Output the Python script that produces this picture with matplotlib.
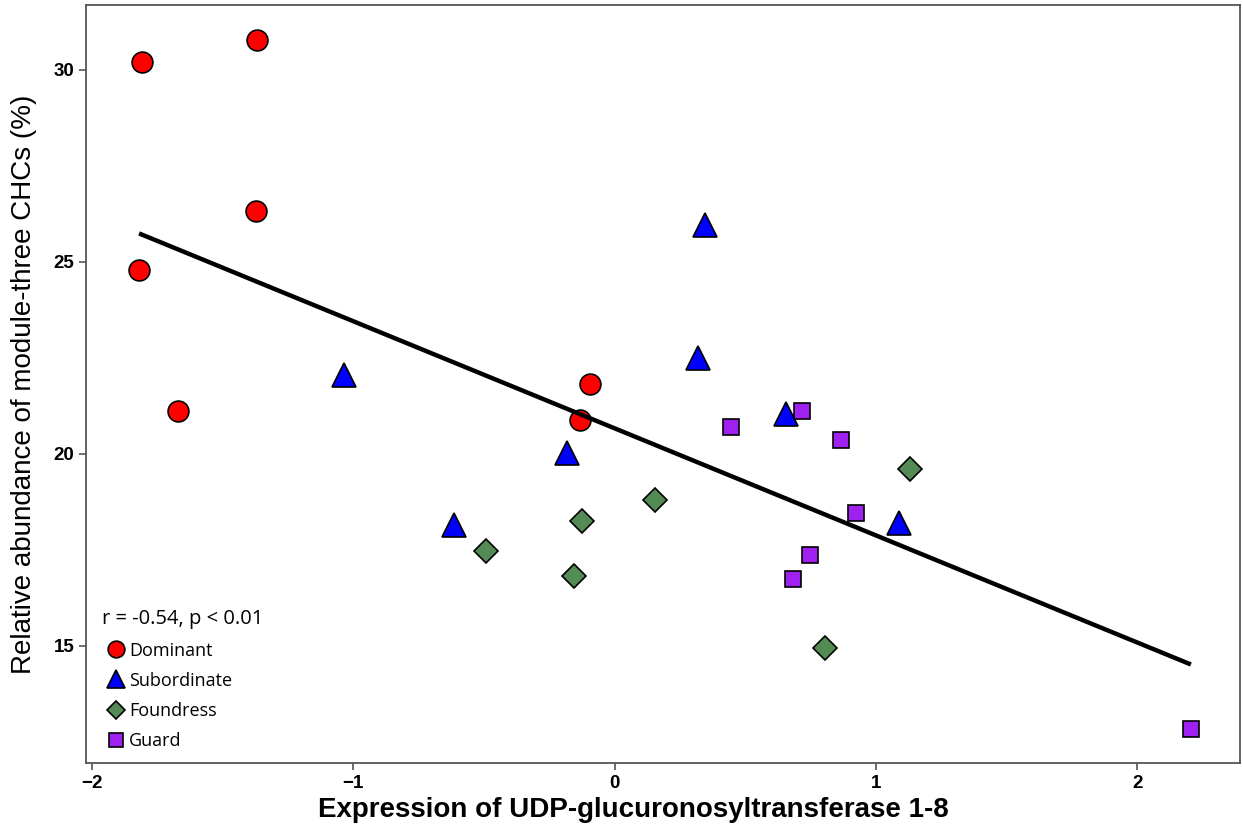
import matplotlib as mpl
mpl.use('Agg')
import matplotlib.pyplot as plt
from matplotlib.lines import Line2D
import numpy as np

# values
dominant_x = [-1.809, -1.369, -1.372, -1.820, -1.671, -0.094, -0.132]
dominant_y = [30.21, 30.78, 26.33, 24.79, 21.11, 21.82, 20.89]

subordinate_x = [0.346, -1.036, 0.320, 0.656, -0.182, -0.615, 1.088]
subordinate_y = [25.96, 22.06, 22.50, 21.04, 20.03, 18.15, 18.20]

foundress_x = [-0.492, -0.155, -0.125, 0.155, 1.130, 0.805]
foundress_y = [17.47, 16.82, 18.26, 18.80, 19.61, 14.95]

guard_x = [0.445, 0.717, 0.866, 0.924, 0.748, 0.683, 2.206]
guard_y = [20.70, 21.12, 20.36, 18.46, 17.37, 16.74, 12.84]

groups = ['Dominant', 'Subordinate', 'Foundress', 'Guard']
colors = ['#ff0000', '#0000ff', '#548b54', '#a020f0']
markers = ['o', '^', 'D', 's']
sizes = [15, 17, 12, 12]

xs = [dominant_x, subordinate_x, foundress_x, guard_x]
ys = [dominant_y, subordinate_y, foundress_y, guard_y]

plt.rcParams['font.family'] = ['Liberation Sans', 'DejaVu Sans']

fig = plt.figure(figsize=(12.43, 8.26), dpi=100)
ax = fig.add_axes([0.0692, 0.0763, 0.9284, 0.9177])

# regression line over all points
allx = np.concatenate([np.array(v) for v in xs])
ally = np.concatenate([np.array(v) for v in ys])
k, b = np.polyfit(allx, ally, 1)
lx = np.array([allx.min(), allx.max()])
ax.plot(lx, k * lx + b, color='black', lw=3.2, zorder=4, solid_capstyle='butt')

for x, y, c, m, s in zip(xs, ys, colors, markers, sizes):
    ax.plot(x, y, ls='none', marker=m, ms=s, mfc=c, mec='black', mew=1.2, zorder=3)

ax.set_xlim(-2.023, 2.394)
ax.set_ylim(11.95, 31.69)
ax.set_xticks([-2, -1, 0, 1, 2])
ax.set_xticklabels(['\u22122', '\u22121', '0', '1', '2'])
ax.set_yticks([15, 20, 25, 30])

for sp in ax.spines.values():
    sp.set_color('#555555')
    sp.set_linewidth(1.3)
ax.tick_params(length=5, width=1.2, color='#555555', labelsize=13.5, labelcolor='black')
for lab in ax.get_xticklabels() + ax.get_yticklabels():
    lab.set_fontweight('bold')

ax.set_xlabel('Expression of UDP-glucuronosyltransferase 1-8', fontweight='bold', fontsize=20)
ax.xaxis.set_label_coords(0.474, -0.045, transform=ax.transAxes)
ax.xaxis.label.set_va('top')
ax.set_ylabel('Relative abundance of module-three CHCs (%)', fontsize=20, labelpad=12)

handles = [Line2D([], [], ls='none', marker=m, ms=s * 0.8, mfc=c, mec='black', mew=1.2)
           for c, m, s in zip(colors, markers, sizes)]
leg = ax.legend(handles, groups, loc='lower left', frameon=False, title='r = -0.54, p < 0.01',
                prop={'family': 'Open Sans', 'size': 13}, handletextpad=0.0, handlelength=1.5,
                labelspacing=0.68, borderaxespad=0.3, bbox_to_anchor=(0.003, 0.0))
leg.get_title().set_fontfamily('Open Sans')
leg.get_title().set_fontsize(14.5)
leg._legend_box.align = 'left'
leg._legend_box.sep = 9

plt.savefig('out.png', dpi=100)
